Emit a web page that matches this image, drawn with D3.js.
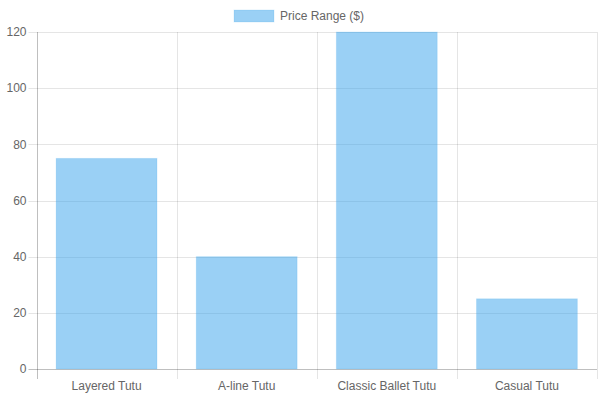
<!DOCTYPE html>
<html><head><meta charset="utf-8">
<script src="https://cdn.jsdelivr.net/npm/d3@7"></script>
<style>body{margin:0;background:#fff}svg{display:block;font-family:"Liberation Sans",Arial,sans-serif}</style>
</head><body><svg id="c" width="600" height="400"></svg>
<script>
const categories = ["Layered Tutu", "A-line Tutu", "Classic Ballet Tutu", "Casual Tutu"];
const values = [75, 40, 120, 25];
const yTicks = [0, 20, 40, 60, 80, 100, 120];
const seriesName = "Price Range ($)";

const svg = d3.select("#c");
const L = 36.5, R = 597, T = 32, B = 369;
const x = d3.scaleBand().domain(categories).range([L, R]).paddingInner(0).paddingOuter(0);
const y = d3.scaleLinear().domain([0, 120]).range([B, T]);

// horizontal grid
svg.append("g").selectAll("line").data(yTicks).join("line")
  .attr("x1", L - 8).attr("x2", R)
  .attr("y1", d => Math.round(y(d)) + 0.5).attr("y2", d => Math.round(y(d)) + 0.5)
  .attr("stroke", d => d === 0 ? "rgba(0,0,0,0.25)" : "rgba(0,0,0,0.1)");
// vertical grid
const xs = categories.map(c => x(c)).concat([R]);
svg.append("g").selectAll("line").data(xs).join("line")
  .attr("x1", d => Math.round(d) + 0.5).attr("x2", d => Math.round(d) + 0.5)
  .attr("y1", T).attr("y2", B + 10)
  .attr("stroke", (d, i) => i === 0 ? "rgba(0,0,0,0.25)" : "rgba(0,0,0,0.1)");

// bars
const bw = x.bandwidth() * 0.72;
svg.append("g").selectAll("rect").data(values).join("rect")
  .attr("x", (d, i) => x(categories[i]) + (x.bandwidth() - bw) / 2)
  .attr("width", bw)
  .attr("y", d => y(d))
  .attr("height", d => B - y(d))
  .attr("fill", "rgba(54,162,235,0.5)")
  .attr("stroke", "rgba(54,162,235,0.15)")
  .attr("stroke-width", 1);

// y labels
svg.append("g").selectAll("text").data(yTicks).join("text")
  .attr("x", L - 10).attr("y", d => y(d)).attr("dy", "0.35em")
  .attr("text-anchor", "end").attr("font-size", 12).attr("fill", "#666")
  .text(d => d);
// x labels
svg.append("g").selectAll("text").data(categories).join("text")
  .attr("x", d => x(d) + x.bandwidth() / 2).attr("y", B + 21)
  .attr("text-anchor", "middle").attr("font-size", 12).attr("fill", "#666")
  .text(d => d);

// legend
const lg = svg.append("g");
lg.append("rect").attr("x", 234).attr("y", 10).attr("width", 40).attr("height", 12)
  .attr("fill", "rgba(54,162,235,0.5)").attr("stroke", "rgba(54,162,235,0.15)");
lg.append("text").attr("x", 280).attr("y", 16).attr("dy", "0.35em")
  .attr("font-size", 12).attr("fill", "#666").text(seriesName);
</script></body></html>
